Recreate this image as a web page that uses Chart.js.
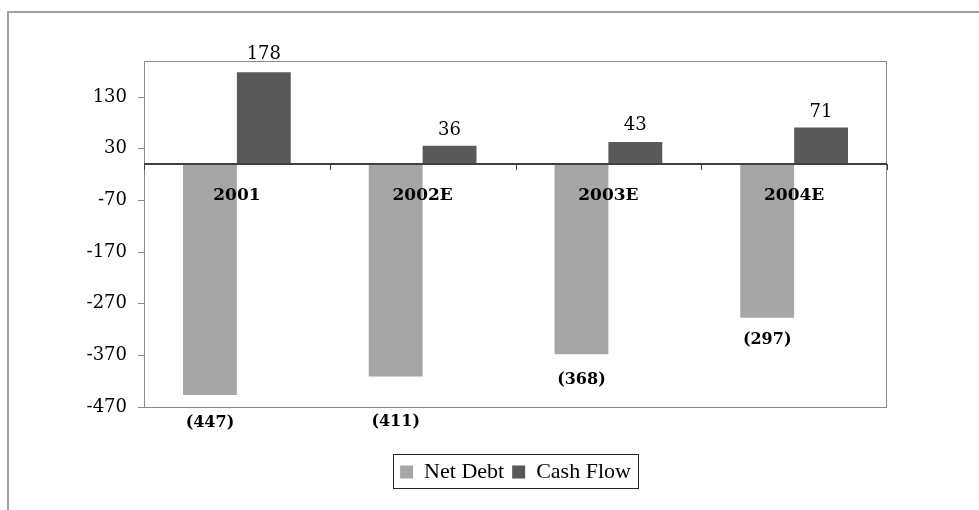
<!DOCTYPE html>
<html>
<head>
<meta charset="utf-8">
<script src="https://cdn.jsdelivr.net/npm/chart.js@4/dist/chart.umd.min.js"></script>
<style>
  html, body { margin: 0; padding: 0; background: #ffffff; overflow: hidden; }
  #wrap { position: relative; width: 979px; height: 510px; }
  #frame {
    position: absolute; left: 7px; top: 11px; width: 2000px; height: 2000px;
    border-left: 2px solid #a0a0a0; border-top: 2px solid #a0a0a0;
  }
  #chart { position: absolute; left: 0; top: 0; }
</style>
</head>
<body>
<div id="wrap">
  <div id="frame"></div>
  <canvas id="chart" width="979" height="510"></canvas>
</div>
<script>
// Years shown along the zero line
const years = ['2001', '2002E', '2003E', '2004E'];
// Net debt (negative) and cash flow per year
const netDebt = [-447, -411, -368, -297];
const cashFlow = [178, 36, 43, 71];
// Value-axis tick labels
const yTicks = [-470, -370, -270, -170, -70, 30, 130];

const SERIF = '"DejaVu Serif", "Liberation Serif", serif';

// Per-label nudges for the value labels (pixels away from the bar end)
const debtLabelGap = [28, 45, 26, 22];
const cashLabelGap = [18, 15, 17, 15];

const decorations = {
  id: 'decorations',
  beforeDatasetsDraw(chart) {
    const {ctx, chartArea: a} = chart;
    ctx.save();
    ctx.strokeStyle = '#8a8a8a';
    ctx.lineWidth = 1;
    ctx.strokeRect(a.left + 0.5, a.top + 0.5, a.right - a.left - 1, a.bottom - a.top);
    ctx.restore();
  },
  afterDatasetsDraw(chart) {
    const {ctx, chartArea: a, scales: {x, y}} = chart;
    const y0 = Math.round(y.getPixelForValue(0));
    ctx.save();
    // zero line with category separators
    ctx.strokeStyle = '#404040';
    ctx.lineWidth = 2;
    ctx.beginPath();
    ctx.moveTo(a.left, y0);
    ctx.lineTo(a.right, y0);
    ctx.stroke();
    ctx.lineWidth = 1;
    const step = (a.right - a.left) / years.length;
    for (let i = 0; i <= years.length; i++) {
      const px = Math.round(a.left + i * step) + 0.5;
      ctx.beginPath();
      ctx.moveTo(px, y0);
      ctx.lineTo(px, y0 + 6);
      ctx.stroke();
    }
    // year labels
    ctx.fillStyle = '#000000';
    ctx.textAlign = 'center';
    ctx.textBaseline = 'middle';
    ctx.font = 'bold 17px ' + SERIF;
    years.forEach((yr, i) => {
      ctx.fillText(yr, x.getPixelForValue(i), y0 + 32);
    });
    // value labels
    const debtMeta = chart.getDatasetMeta(0);
    ctx.font = 'bold 16px ' + SERIF;
    debtMeta.data.forEach((bar, i) => {
      const v = netDebt[i];
      ctx.fillText('(' + Math.abs(v) + ')', bar.x, bar.y + debtLabelGap[i]);
    });
    const cashMeta = chart.getDatasetMeta(1);
    ctx.font = '18px ' + SERIF;
    cashMeta.data.forEach((bar, i) => {
      ctx.fillText(String(cashFlow[i]), bar.x, bar.y - cashLabelGap[i]);
    });
    ctx.restore();
  },
  afterDraw(chart) {
    const lg = chart.legend;
    if (!lg || !lg.legendHitBoxes || !lg.legendHitBoxes.length) return;
    const boxes = lg.legendHitBoxes;
    const left = boxes[0].left - 7;
    const last = boxes[boxes.length - 1];
    const right = last.left + last.width + 7;
    const top = boxes[0].top - 7;
    const bottom = boxes[0].top + boxes[0].height + 5;
    const {ctx} = chart;
    ctx.save();
    ctx.strokeStyle = '#222222';
    ctx.lineWidth = 1;
    ctx.strokeRect(Math.round(left) + 0.5, Math.round(top) + 0.5,
                   Math.round(right - left), Math.round(bottom - top));
    ctx.restore();
  }
};

new Chart(document.getElementById('chart'), {
  type: 'bar',
  data: {
    labels: years,
    datasets: [
      { label: 'Net Debt', data: netDebt, backgroundColor: '#a6a6a6', borderWidth: 0 },
      { label: 'Cash Flow', data: cashFlow, backgroundColor: '#595959', borderWidth: 0 }
    ]
  },
  options: {
    responsive: false,
    animation: false,
    devicePixelRatio: 1,
    layout: { padding: { top: 61, right: 92, bottom: 17, left: 0 } },
    datasets: { bar: { categoryPercentage: 0.58, barPercentage: 1.0 } },
    scales: {
      x: {
        type: 'category',
        offset: true,
        grid: { display: false },
        border: { display: false },
        ticks: { display: false },
        afterFit(scale) { scale.height = 46; }
      },
      y: {
        min: -470,
        max: 200,
        afterBuildTicks(scale) { scale.ticks = yTicks.map(v => ({ value: v })); },
        afterFit(scale) { scale.width = 144; },
        grid: { drawOnChartArea: false, drawTicks: true, tickLength: 6, color: '#8a8a8a' },
        border: { display: true, color: '#8a8a8a' },
        ticks: {
          padding: 11,
          color: '#000000',
          font: { family: SERIF, size: 18 },
          callback: v => String(v)
        }
      }
    },
    plugins: {
      legend: {
        position: 'bottom',
        fullSize: false,
        labels: {
          boxWidth: 13,
          boxHeight: 13,
          padding: 8,
          color: '#000000',
          font: { family: '"Liberation Serif", "Times New Roman", serif', size: 22 }
        }
      },
      tooltip: { enabled: false }
    }
  },
  plugins: [decorations]
});
</script>
</body>
</html>
